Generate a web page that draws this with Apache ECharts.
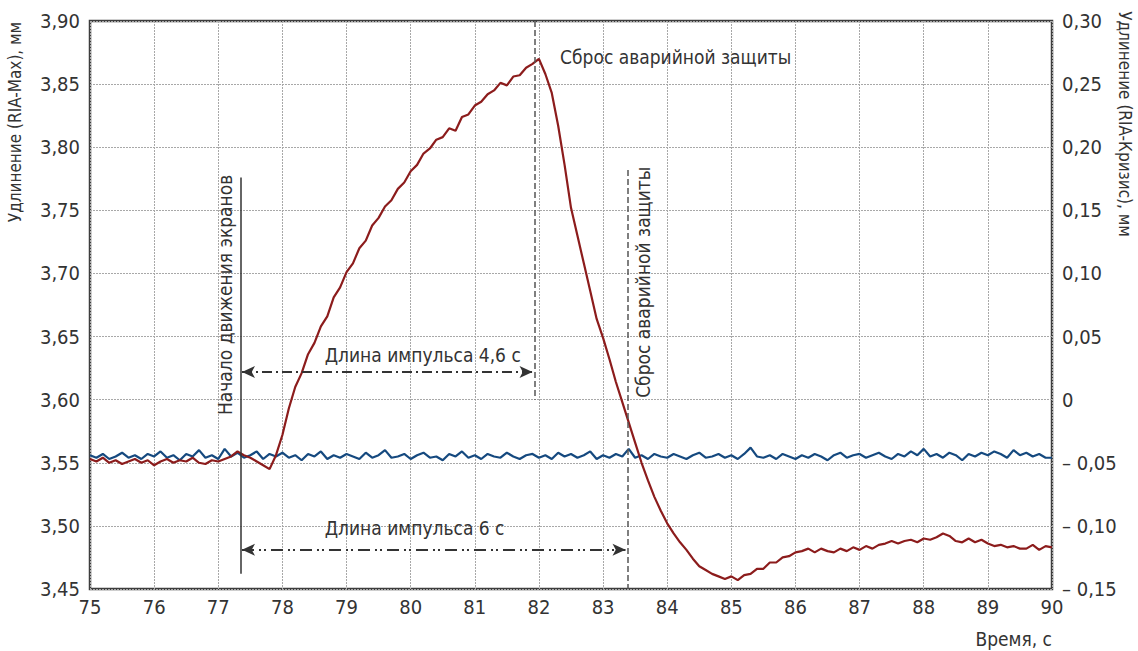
<!DOCTYPE html>
<html>
<head>
<meta charset="utf-8">
<script src="https://cdn.jsdelivr.net/npm/echarts@6/dist/echarts.min.js"></script>
<style>
  html, body { margin: 0; padding: 0; background: #fff; }
  #chart { width: 1138px; height: 651px; }
</style>
</head>
<body>
<div id="chart"></div>
<script>
// время отсчётов, с (шаг 0,1 с)
const T_START = 75
const T_STEP = 0.1

// удлинение RIA-Max, мм (левая ось)
const riaMax = [
  3.553, 3.551, 3.554, 3.550, 3.552, 3.549, 3.551, 3.553, 3.550, 3.552, // 75
  3.548, 3.551, 3.553, 3.550, 3.552, 3.551, 3.554, 3.550, 3.549, 3.552, // 76
  3.551, 3.553, 3.555, 3.559, 3.556, 3.554, 3.551, 3.548, 3.545, 3.556, // 77
  3.572, 3.593, 3.610, 3.621, 3.636, 3.645, 3.658, 3.666, 3.681, 3.689, // 78
  3.701, 3.708, 3.720, 3.726, 3.738, 3.744, 3.753, 3.758, 3.767, 3.772, // 79
  3.781, 3.786, 3.795, 3.799, 3.806, 3.808, 3.815, 3.813, 3.824, 3.826, // 80
  3.833, 3.836, 3.842, 3.845, 3.851, 3.849, 3.856, 3.857, 3.863, 3.866, // 81
  3.870, 3.858, 3.843, 3.817, 3.786, 3.752, 3.730, 3.708, 3.686, 3.664, // 82
  3.649, 3.632, 3.614, 3.598, 3.582, 3.566, 3.550, 3.536, 3.523, 3.512, // 83
  3.502, 3.494, 3.487, 3.481, 3.474, 3.468, 3.465, 3.462, 3.460, 3.458, // 84
  3.460, 3.457, 3.461, 3.462, 3.466, 3.466, 3.471, 3.471, 3.475, 3.476, // 85
  3.479, 3.480, 3.482, 3.479, 3.482, 3.480, 3.479, 3.482, 3.480, 3.483, // 86
  3.481, 3.484, 3.482, 3.485, 3.486, 3.488, 3.486, 3.488, 3.489, 3.487, // 87
  3.490, 3.489, 3.491, 3.494, 3.492, 3.488, 3.487, 3.490, 3.487, 3.489, // 88
  3.486, 3.484, 3.485, 3.483, 3.484, 3.482, 3.482, 3.485, 3.481, 3.484, // 89
  3.483                                                                 // 90
]

// удлинение RIA-Кризис, мм (правая ось)
const riaKrizis = [
  -0.044, -0.046, -0.043, -0.047, -0.045, -0.042, -0.046, -0.044, -0.047, -0.043,
  -0.045, -0.041, -0.046, -0.044, -0.048, -0.043, -0.045, -0.040, -0.046, -0.044,
  -0.047, -0.039, -0.045, -0.042, -0.046, -0.044, -0.041, -0.047, -0.043, -0.045,
  -0.042, -0.046, -0.044, -0.048, -0.043, -0.045, -0.041, -0.047, -0.044, -0.046,
  -0.043, -0.045, -0.047, -0.042, -0.046, -0.044, -0.040, -0.046, -0.045, -0.043,
  -0.047, -0.044, -0.042, -0.046, -0.045, -0.048, -0.043, -0.045, -0.041, -0.046,
  -0.044, -0.047, -0.043, -0.045, -0.046, -0.042, -0.045, -0.047, -0.044, -0.043,
  -0.046, -0.044, -0.047, -0.042, -0.045, -0.043, -0.046, -0.044, -0.041, -0.047,
  -0.044, -0.046, -0.043, -0.045, -0.039, -0.046, -0.044, -0.047, -0.043, -0.045,
  -0.046, -0.043, -0.045, -0.047, -0.044, -0.042, -0.046, -0.045, -0.043, -0.046,
  -0.044, -0.047, -0.043, -0.038, -0.045, -0.046, -0.044, -0.047, -0.043, -0.045,
  -0.047, -0.044, -0.046, -0.043, -0.045, -0.048, -0.044, -0.042, -0.046, -0.044,
  -0.043, -0.046, -0.044, -0.042, -0.045, -0.047, -0.043, -0.045, -0.041, -0.044,
  -0.039, -0.045, -0.043, -0.046, -0.042, -0.044, -0.048, -0.043, -0.045, -0.042,
  -0.044, -0.041, -0.043, -0.046, -0.040, -0.044, -0.042, -0.045, -0.043, -0.046,
  -0.046
]

// события, с
const tStart = 77.35   // начало движения экранов
const tScram1 = 81.93  // сброс АЗ (RIA-Max)
const tScram2 = 83.38  // сброс АЗ (RIA-Кризис)

const FONT = '"DejaVu Sans Condensed", "Liberation Sans Narrow", "Roboto", sans-serif'
const TXT = '#333'

const times = riaMax.map((_, i) => +(T_START + i * T_STEP).toFixed(1))
const redData = riaMax.map((v, i) => [times[i], v])
const blueData = riaKrizis.map((v, i) => [times[i], v])

const fmtRight = v => {
  const r = Math.round(v * 100) / 100
  if (r === 0) return '0'
  const s = Math.abs(r).toFixed(2).replace('.', ',')
  return r < 0 ? '– ' + s : s
}

const chart = echarts.init(document.getElementById('chart'), null, { renderer: 'svg' })

const gridLine = { show: true, lineStyle: { color: '#a8a8a8', type: [2, 1], width: 1 } }

const option = {
  animation: false,
  backgroundColor: '#fff',
  grid: {
    left: 90, right: 86, top: 21, bottom: 62,
    show: true, borderColor: '#3d3d3d', borderWidth: 2.5, backgroundColor: 'transparent'
  },
  xAxis: {
    type: 'value', min: 75, max: 90, interval: 1,
    axisLine: { show: false },
    axisTick: { show: false },
    splitLine: gridLine,
    axisLabel: { color: TXT, fontSize: 20, fontFamily: FONT, margin: 8 }
  },
  yAxis: [
    {
      type: 'value', min: 3.45, max: 3.90, interval: 0.05,
      axisLine: { show: false },
      axisTick: { show: false },
      splitLine: gridLine,
      axisLabel: {
        color: TXT, fontSize: 20, fontFamily: FONT, margin: 10,
        formatter: v => v.toFixed(2).replace('.', ',')
      }
    },
    {
      type: 'value', min: -0.15, max: 0.30, interval: 0.05, position: 'right',
      axisLine: { show: false },
      axisTick: { show: false },
      splitLine: { show: false },
      axisLabel: { color: TXT, fontSize: 20, fontFamily: FONT, margin: 10, formatter: fmtRight }
    }
  ],
  series: [
    {
      name: 'RIA-Кризис',
      type: 'line',
      yAxisIndex: 1,
      data: blueData,
      showSymbol: false,
      lineStyle: { color: '#15497f', width: 2.2 },
      z: 2
    },
    {
      name: 'RIA-Max',
      type: 'line',
      yAxisIndex: 0,
      data: redData,
      showSymbol: false,
      lineStyle: { color: '#8c1c1c', width: 2.2 },
      z: 3,
      markLine: {
        silent: true,
        symbol: 'none',
        label: { show: false },
        animation: false,
        data: [
          [
            { coord: [tStart, 3.776], lineStyle: { color: '#333', width: 1.5, type: 'solid' } },
            { coord: [tStart, 3.462] }
          ],
          [
            { coord: [tScram1, 3.90], lineStyle: { color: '#555', width: 1.5, type: [6, 3] } },
            { coord: [tScram1, 3.60] }
          ],
          [
            { coord: [tScram2, 3.782], lineStyle: { color: '#555', width: 1.5, type: [6, 3] } },
            { coord: [tScram2, 3.45] }
          ],
          [
            { coord: [tStart + 0.02, 3.622], symbol: 'arrow', symbolSize: [9, 13],
              lineStyle: { color: '#333', width: 2, type: [10, 4, 2, 4] } },
            { coord: [tScram1 - 0.03, 3.622], symbol: 'arrow', symbolSize: [9, 13] }
          ],
          [
            { coord: [tStart + 0.02, 3.481], symbol: 'arrow', symbolSize: [9, 13],
              lineStyle: { color: '#333', width: 2, type: [12, 5, 2, 3, 2, 5] } },
            { coord: [tScram2 - 0.03, 3.481], symbol: 'arrow', symbolSize: [9, 13] }
          ]
        ]
      }
    }
  ]
}

chart.setOption(option)

// подписи на поле графика
const px = (t, v) => chart.convertToPixel({ xAxisIndex: 0, yAxisIndex: 0 }, [t, v])
const note = (pos, text, size, rot, align) => ({
  type: 'text', x: pos[0], y: pos[1], rotation: rot || 0, silent: true,
  style: { text, fill: TXT, font: size + 'px ' + FONT, align: align || 'left', verticalAlign: 'middle' }
})

chart.setOption({
  graphic: [
    note(px(82.33, 3.8715), 'Сброс аварийной защиты', 19),
    note(px(78.66, 3.635), 'Длина импульса 4,6 с', 19),
    note(px(78.66, 3.498), 'Длина импульса 6 с', 19),
    note(px(77.105, 3.683), 'Начало движения экранов', 19, Math.PI / 2, 'center'),
    note(px(83.62, 3.693), 'Сброс аварийной защиты', 19, Math.PI / 2, 'center'),
    note([15, 122], 'Удлинение (RIA-Max), мм', 17, Math.PI / 2, 'center'),
    note([1125, 124], 'Удлинение (RIA-Кризис), мм', 17, -Math.PI / 2, 'center'),
    note([1052, 639], 'Время, с', 19, 0, 'right')
  ]
})

window.addEventListener('resize', () => chart.resize())
</script>
</body>
</html>
